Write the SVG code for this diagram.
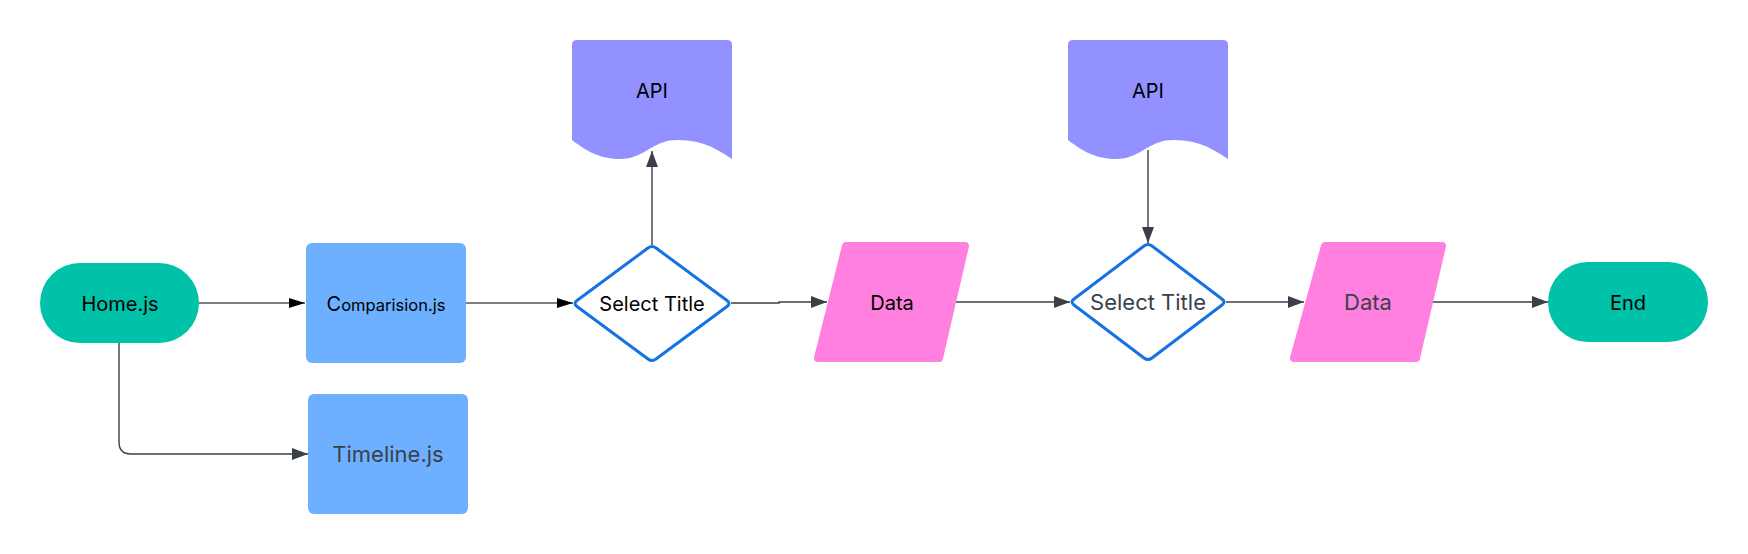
<svg xmlns="http://www.w3.org/2000/svg" width="1748" height="554" viewBox="0 0 1748 554">
<style>
text{font-family:Inter,"Liberation Sans",sans-serif;text-anchor:middle}
.dark{fill:#000}
.grey{fill:#3b414b}
.pill{fill:#00c2a8}
.box{fill:#6cb0ff}
.doc{fill:#9391ff}
.para{fill:#ff80df;stroke:#ff80df;stroke-width:8;stroke-linejoin:round}
.dia{fill:#fff;stroke:#1572e4;stroke-width:3;stroke-linejoin:round}
.cb{fill:none;stroke:#000;stroke-width:1.2}
.cg{fill:none;stroke:#3b3f48;stroke-width:1.4}
</style>
<defs>
<marker id="ab" markerUnits="userSpaceOnUse" markerWidth="16" markerHeight="10" refX="16" refY="5" orient="auto"><path d="M0,0 L16,5 L0,10 z" fill="#000"/></marker>
<marker id="ag" markerUnits="userSpaceOnUse" markerWidth="16" markerHeight="12" refX="16" refY="6" orient="auto"><path d="M0,0 L16,6 L0,12 z" fill="#3b3f48"/></marker>
</defs>
<g id="connectors">
<path class="cb" d="M199,303 L305,303" marker-end="url(#ab)"/>
<path class="cg" d="M119,343 L119,442 Q119,454 131,454 L308,454" marker-end="url(#ag)"/>
<path class="cb" d="M466,303 L573,303" marker-end="url(#ab)"/>
<path class="cg" d="M652,245 L652,151" marker-end="url(#ag)"/>
<path class="cg" d="M731,303 L779,303 L779,302 L827,302" marker-end="url(#ag)"/>
<path class="cg" d="M956,302 L1070,302" marker-end="url(#ag)"/>
<path class="cg" d="M1148,150 L1148,243" marker-end="url(#ag)"/>
<path class="cg" d="M1226,302 L1304,302" marker-end="url(#ag)"/>
<path class="cg" d="M1431,302 L1548,302" marker-end="url(#ag)"/>
</g>
<g id="home">
<rect class="pill" x="40" y="263" width="159" height="80" rx="40"/>
<text class="dark" x="120" y="310.5" font-size="20">Home.js</text>
</g>
<g id="comparision">
<rect class="box" x="306" y="243" width="160" height="120" rx="6"/>
<text class="dark" x="386" y="310.5"><tspan font-size="20">C</tspan><tspan font-size="16.5">omparision.js</tspan></text>
</g>
<g id="timeline">
<rect class="box" x="308" y="394" width="160" height="120" rx="6"/>
<text class="grey" x="388" y="461.5" font-size="22">Timeline.js</text>
</g>
<g id="api1">
<path class="doc" d="M572,45 Q572,40 577,40 L727,40 Q732,40 732,45 L732,159 C712,145 697,140 677,140 C652,140 645,159 620,159 C598,159 584,149 572,140 Z"/>
<text class="dark" x="652" y="97.5" font-size="20">API</text>
</g>
<g id="select1">
<path class="dia" d="M648,248 Q652,245 656,248 L727,300.5 Q731,303.5 727,306.5 L656,359 Q652,362 648,359 L577,306.5 Q573,303.5 577,300.5 Z"/>
<text class="dark" x="652" y="310.5" font-size="20">Select Title</text>
</g>
<g id="data1">
<path class="para" d="M846,246 L965,246 L939,358 L818,358 Z"/>
<text class="dark" x="892" y="309.5" font-size="20">Data</text>
</g>
<g id="api2">
<path class="doc" d="M1068,45 Q1068,40 1073,40 L1223,40 Q1228,40 1228,45 L1228,159 C1208,145 1193,140 1173,140 C1148,140 1141,159 1116,159 C1094,159 1080,149 1068,140 Z"/>
<text class="dark" x="1148" y="97.5" font-size="20">API</text>
</g>
<g id="select2">
<path class="dia" d="M1144,246 Q1148,243 1152,246 L1222,299 Q1226,302 1222,305 L1152,358 Q1148,361 1144,358 L1074,305 Q1070,302 1074,299 Z"/>
<text class="grey" x="1148" y="309.5" font-size="22">Select Title</text>
</g>
<g id="data2">
<path class="para" d="M1325,246 L1442,246 L1416,358 L1294,358 Z"/>
<text class="grey" x="1368" y="309.5" font-size="22">Data</text>
</g>
<g id="end">
<rect class="pill" x="1548" y="262" width="160" height="80" rx="40"/>
<text class="dark" x="1628" y="309.5" font-size="20">End</text>
</g>
</svg>
